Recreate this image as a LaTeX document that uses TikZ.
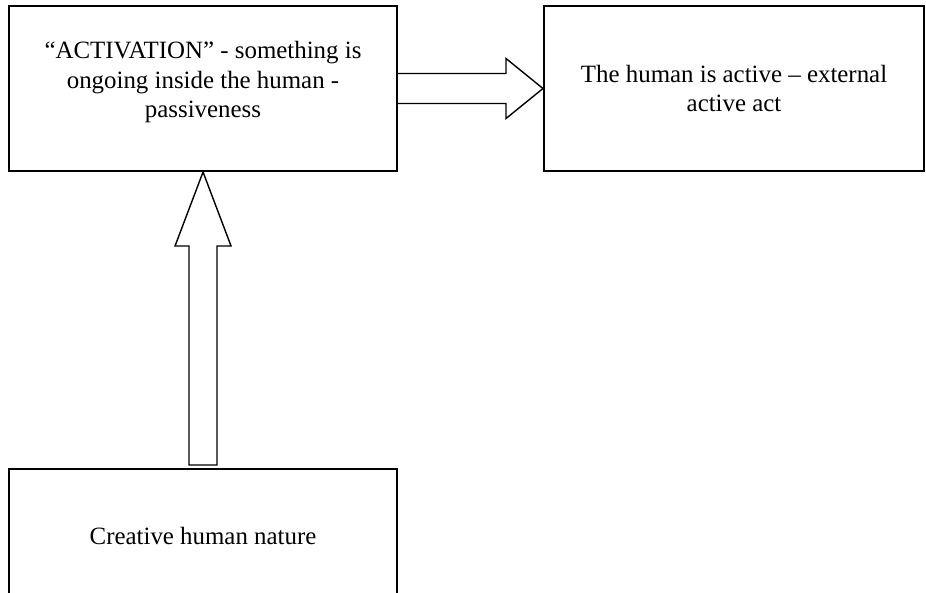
\documentclass[tikz,border=0pt]{standalone}
\usepackage{fontspec}
\setmainfont{Liberation Serif}
\usetikzlibrary{calc}

\begin{document}
\begin{tikzpicture}[
    x=0.025cm,y=-0.025cm,
    statebox/.style={rectangle,draw,line width=1.4pt,fill=white,inner sep=0pt,align=center,
      font=\fontsize{17.7}{21}\selectfont},
    blockarrow/.style={draw,line width=1pt,line join=miter,fill=white}
    ]

    \clip (0,0) rectangle (926,592);

    \node (act) [statebox,anchor=north west,minimum width=9.7cm,minimum height=4.125cm] at (8,5)
      {\begin{tabular}{c}
        ``ACTIVATION'' - something is\\
        ongoing inside the human -\\
        passiveness\\[9pt]
      \end{tabular}};

    \node (human) [statebox,anchor=north west,minimum width=9.5cm,minimum height=4.125cm] at (543,5)
      {The human is active -- external\\active act};

    \node (creative) [statebox,anchor=north west,minimum width=9.7cm,minimum height=3.35cm] at (8,468)
      {Creative human nature};

    % passive -> active
    \draw[blockarrow] ($(act.east)+(0,-15)$) -- ($(human.west)+(-37,-15)$)
      -- ($(human.west)+(-37,-30)$) -- (human.west) -- ($(human.west)+(-37,30)$)
      -- ($(human.west)+(-37,15)$) -- ($(act.east)+(0,15)$);

    % nature -> activation
    \draw[blockarrow] ($(creative.north)+(-14,-3)$) -- ($(act.south)+(-14,74)$)
      -- ($(act.south)+(-28,74)$) -- (act.south) -- ($(act.south)+(28,74)$)
      -- ($(act.south)+(14,74)$) -- ($(creative.north)+(14,-3)$) -- cycle;

  \end{tikzpicture}
\end{document}
